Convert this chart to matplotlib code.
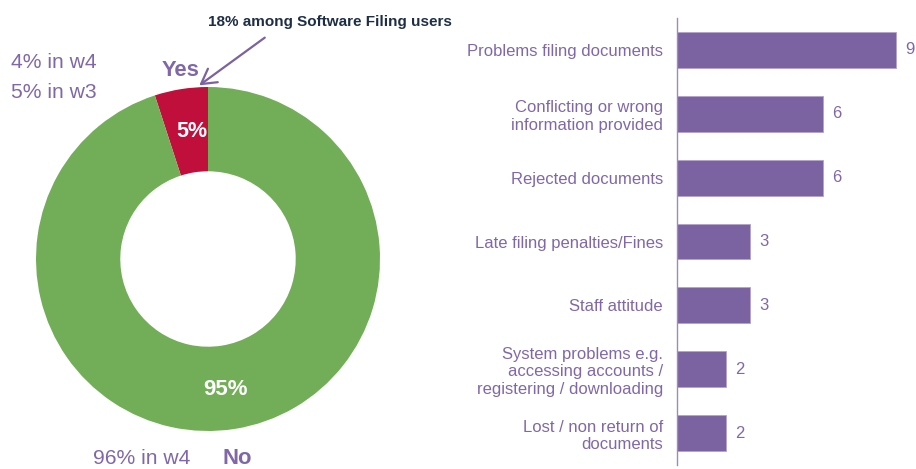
import matplotlib
matplotlib.use("Agg")
import matplotlib.pyplot as plt
from matplotlib.patches import FancyArrowPatch

plt.rcParams['font.family'] = ['Liberation Sans', 'DejaVu Sans']

# Donut data
donut_labels = ["Yes", "No"]
donut_values = [5, 95]
donut_colors = ["#C00F3A", "#72AE57"]

# Bar data
categories = [
    "Problems filing documents",
    "Conflicting or wrong\ninformation provided",
    "Rejected documents",
    "Late filing penalties/Fines",
    "Staff attitude",
    "System problems e.g.\naccessing accounts /\nregistering / downloading",
    "Lost / non return of\ndocuments",
]
counts = [9, 6, 6, 3, 3, 2, 2]

PURPLE = "#7B62A0"
TEXT_PURPLE = "#8068A8"
NAVY = "#1E2F45"

W, H = 916, 469
fig = plt.figure(figsize=(W / 100, H / 100), dpi=100)

def fx(px):
    return px / W

def fy(py):
    return 1 - py / H

# Donut axes
cx, cy, r = 208, 259, 172
axd = fig.add_axes([fx(cx - r), fy(cy + r), 2 * r / W, 2 * r / H])
axd.pie(donut_values, colors=donut_colors, startangle=90, counterclock=True,
        radius=1.0, wedgeprops=dict(width=0.49, linewidth=0))
axd.set_xlim(-1, 1)
axd.set_ylim(-1, 1)
axd.set_aspect("auto")
axd.axis("off")

# Donut texts (figure coords)
fig.text(fx(192), fy(131), f"{donut_values[0]}%", color="white", fontsize=15.5,
         fontweight="bold", ha="center", va="center")
fig.text(fx(225), fy(389), f"{donut_values[1]}%", color="white", fontsize=16,
         fontweight="bold", ha="center", va="center")
fig.text(fx(181), fy(70), donut_labels[0], color=TEXT_PURPLE, fontsize=15.8,
         fontweight="bold", ha="center", va="center")
fig.text(fx(237), fy(458), donut_labels[1], color=TEXT_PURPLE, fontsize=15.8,
         fontweight="bold", ha="center", va="center")
fig.text(fx(11), fy(62), "4% in w4", color=TEXT_PURPLE, fontsize=15.2,
         ha="left", va="center")
fig.text(fx(11), fy(93), "5% in w3", color=TEXT_PURPLE, fontsize=15.2,
         ha="left", va="center")
fig.text(fx(93), fy(458), "96% in w4", color=TEXT_PURPLE, fontsize=15.2,
         ha="left", va="center")
fig.text(fx(330), fy(22), "18% among Software Filing users", color=NAVY,
         fontsize=11, fontweight="bold", ha="center", va="center")
fig.add_artist(FancyArrowPatch(
    (fx(267), fy(36)), (fx(197), fy(87)), transform=fig.transFigure,
    arrowstyle="->,head_length=7,head_width=4", color=PURPLE, lw=1.6,
    mutation_scale=1.5))

# Bar axes
left_px, right_px, top_px, bot_px = 677, 916, 18, 465
axb = fig.add_axes([fx(left_px), fy(bot_px), (right_px - left_px) / W,
                    (bot_px - top_px) / H])
ypos = list(range(len(categories)))
axb.barh(ypos, counts, height=0.56, color=PURPLE, edgecolor="#B3A2CC", linewidth=0.6)
axb.set_ylim(len(categories) - 0.5, -0.5)
axb.set_xlim(0, (right_px - left_px) / 24.3)
for s in ["top", "right", "bottom"]:
    axb.spines[s].set_visible(False)
axb.spines["left"].set_color("#9C8DB8")
axb.spines["left"].set_linewidth(1.0)
axb.set_xticks([])
axb.set_yticks(ypos)
axb.set_yticklabels(categories, fontsize=12, color=TEXT_PURPLE, linespacing=1.2)
axb.tick_params(axis="y", length=0, pad=10)
for y, v in zip(ypos, counts):
    axb.text(v + 0.4, y, str(v), color=TEXT_PURPLE, fontsize=12,
             ha="left", va="center")

fig.savefig("out.png", dpi=100)
